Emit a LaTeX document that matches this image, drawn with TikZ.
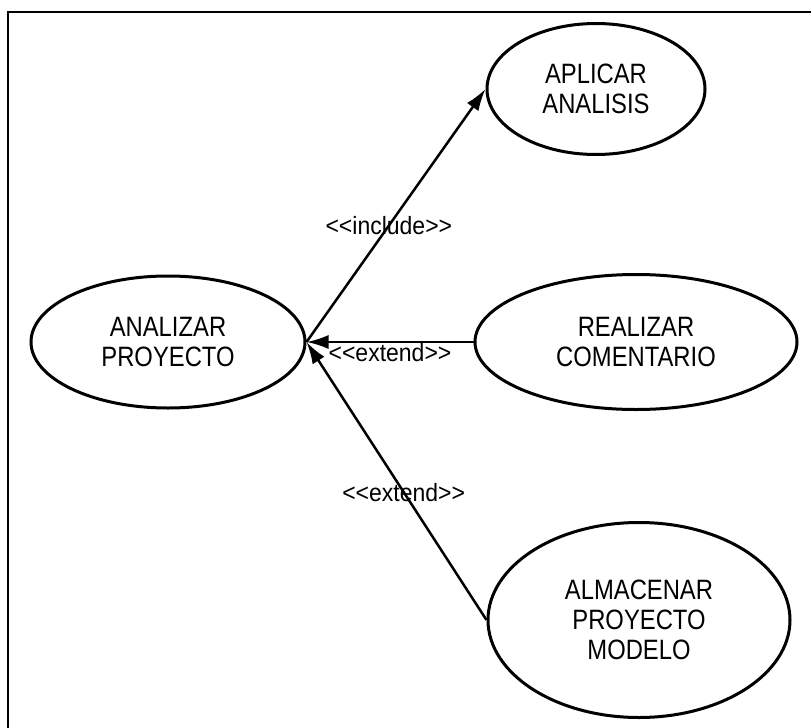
\documentclass[tikz,border=0pt]{standalone}
\usepackage{fontspec}
\setmainfont{Liberation Sans}
\newfontfamily\casefont[FakeStretch=0.85]{Liberation Sans}
\newfontfamily\stereofont[FakeStretch=0.92,Ligatures=NoCommon]{Liberation Sans}
\usetikzlibrary{shapes.geometric,arrows.meta}

\begin{document}
\begin{tikzpicture}[x=1pt,y=-1pt]
    % use cases around the project analysis
    \tikzset{usecase/.style = {shape=ellipse,draw,line width=3pt,inner sep=0pt,align=center,
       font=\casefont\fontsize{28}{30}\selectfont}}
    \tikzset{rel/.style = {line width=2.5pt,-{Latex[length=22pt,width=14pt]}}}
    \tikzset{stereo/.style = {inner sep=0pt,font=\stereofont\fontsize{25}{27}\selectfont}}

    % frame
    \useasboundingbox (0,0) rectangle (811,728);
    \draw[line width=2pt] (8,728) -- (8,11.5) -- (811,11.5);

    % cases
    \node[usecase,minimum width=274pt,minimum height=132pt] (analizar)  at (168,342) {ANALIZAR\\PROYECTO};
    \node[usecase,minimum width=218pt,minimum height=131pt] (aplicar)   at (596,89)  {APLICAR\\ANALISIS};
    \node[usecase,minimum width=322pt,minimum height=135pt] (realizar)  at (636,342) {REALIZAR\\COMENTARIO};
    \node[usecase,minimum width=302pt,minimum height=195pt] (almacenar) at (639,620) {ALMACENAR\\PROYECTO\\MODELO};

    % relations
    \draw[rel] (analizar.east) -- node[stereo,pos=0.46] {<{}<include>{}>} (aplicar.west);
    \draw[rel] (realizar.west) -- node[stereo,below,pos=0.5] {<{}<extend>{}>} (analizar.east);
    \draw[rel] (almacenar.west) -- node[stereo,pos=0.46] {<{}<extend>{}>} (analizar.east);
\end{tikzpicture}
\end{document}
